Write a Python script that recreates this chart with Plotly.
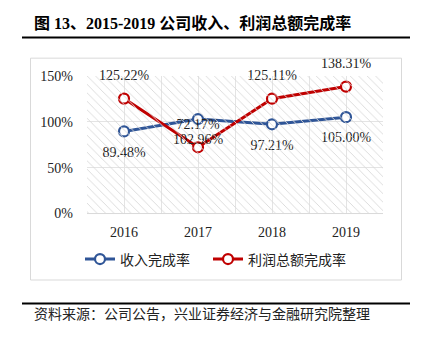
import plotly.graph_objects as go

categories = ["2016", "2017", "2018", "2019"]
revenue_rate = [89.48, 102.96, 97.21, 105.00]
profit_rate = [125.22, 72.17, 125.11, 138.31]
revenue_name = "收入完成率"
profit_name = "利润总额完成率"
title_text = "图 13、2015-2019 公司收入、利润总额完成率"
source_text = "资料来源：公司公告，兴业证券经济与金融研究院整理"

W, H = 421, 343
def px(x): return x / W
def py(y): return 1 - y / H

BLUE = "#2F5597"
RED = "#C00000"
FONT = "Liberation Serif, Noto Sans CJK SC"

fig = go.Figure()

# hatched plot-area background
fig.add_trace(go.Bar(
    x=[0.5], y=[150], width=[1], xaxis="x2", yaxis="y",
    marker=dict(color="#d9d9d9", line=dict(width=0),
                pattern=dict(shape="\\", fillmode="replace", size=6, solidity=0.15)),
    showlegend=False, hoverinfo="skip"))

fig.add_trace(go.Scatter(
    x=categories, y=revenue_rate, name=revenue_name, mode="lines+markers",
    line=dict(color=BLUE, width=3), cliponaxis=False, legend="legend",
    marker=dict(symbol="circle", size=10, color="white", line=dict(color=BLUE, width=2.2))))

fig.add_trace(go.Scatter(
    x=categories, y=profit_rate, name=profit_name, mode="lines+markers",
    line=dict(color=RED, width=3), cliponaxis=False, legend="legend2",
    marker=dict(symbol="circle", size=10, color="white", line=dict(color=RED, width=2.2))))

# data labels (transparent large markers give a larger text offset)
fig.add_trace(go.Scatter(
    x=categories, y=revenue_rate, mode="markers+text", showlegend=False, hoverinfo="skip",
    cliponaxis=False, marker=dict(size=22, color="rgba(0,0,0,0)"),
    text=[f"{v:.2f}%" for v in revenue_rate], textposition="bottom center",
    textfont=dict(family=FONT, size=14, color="#222")))
fig.add_trace(go.Scatter(
    x=categories, y=profit_rate, mode="markers+text", showlegend=False, hoverinfo="skip",
    cliponaxis=False, marker=dict(size=22, color="rgba(0,0,0,0)"),
    text=[f"{v:.2f}%" for v in profit_rate], textposition="top center",
    textfont=dict(family=FONT, size=14, color="#222")))

fig.update_layout(
    width=W, height=H, margin=dict(l=0, r=0, t=0, b=0),
    paper_bgcolor="white", plot_bgcolor="white",
    font=dict(family=FONT, color="#222"),
    xaxis=dict(domain=[px(87), px(383)], type="category", range=[-0.5, 3.5],
               showgrid=False, showline=False, ticks="", ticklabelstandoff=8,
               tickfont=dict(family=FONT, size=14, color="#222")),
    xaxis2=dict(domain=[px(87), px(383)], overlaying="x", range=[0, 1],
                showticklabels=False, showgrid=True, gridcolor="#e4e4e4",
                dtick=0.125, tick0=0, zeroline=False, anchor="y"),
    yaxis=dict(domain=[py(216), py(72)], range=[0, 150], dtick=50, ticksuffix="%",
               showgrid=True, gridcolor="#e4e4e4", zeroline=False,
               showline=False, ticks="", ticklabelstandoff=13,
               tickfont=dict(family=FONT, size=14, color="#222")),
    legend=dict(orientation="h", x=px(80), xanchor="left", y=py(264), yanchor="middle",
                font=dict(family=FONT, size=14, color="#222"), itemwidth=30,
                bgcolor="rgba(0,0,0,0)"),
    legend2=dict(orientation="h", x=px(208), xanchor="left", y=py(264), yanchor="middle",
                 font=dict(family=FONT, size=14, color="#222"), itemwidth=30,
                 bgcolor="rgba(0,0,0,0)"),
    bargap=0,
    showlegend=True,
)

shapes = [
    dict(type="line", xref="paper", yref="paper", x0=px(22), x1=px(410), y0=py(32), y1=py(32),
         line=dict(color="black", width=2)),
    dict(type="rect", xref="paper", yref="paper", x0=px(30.5), x1=px(401.5), y0=py(285.5), y1=py(53.5),
         line=dict(color="#d9d9d9", width=1)),
    dict(type="line", xref="paper", yref="paper", x0=px(22), x1=px(410), y0=py(310), y1=py(310),
         line=dict(color="black", width=2)),
    dict(type="line", xref="paper", yref="paper", x0=px(87), x1=px(383), y0=py(216), y1=py(216),
         line=dict(color="#d9d9d9", width=1)),
]
fig.update_layout(shapes=shapes)

fig.add_annotation(x=px(32), y=py(17), xref="paper", yref="paper", xanchor="left", yanchor="middle",
                   text=f"<b>{title_text}</b>", showarrow=False,
                   font=dict(family="Liberation Serif, Noto Sans CJK SC", size=16, color="black"))
fig.add_annotation(x=px(32), y=py(320), xref="paper", yref="paper", xanchor="left", yanchor="middle",
                   text=source_text, showarrow=False,
                   font=dict(family="Noto Sans CJK SC", size=14, color="#222"))

fig.write_html("out.html")
